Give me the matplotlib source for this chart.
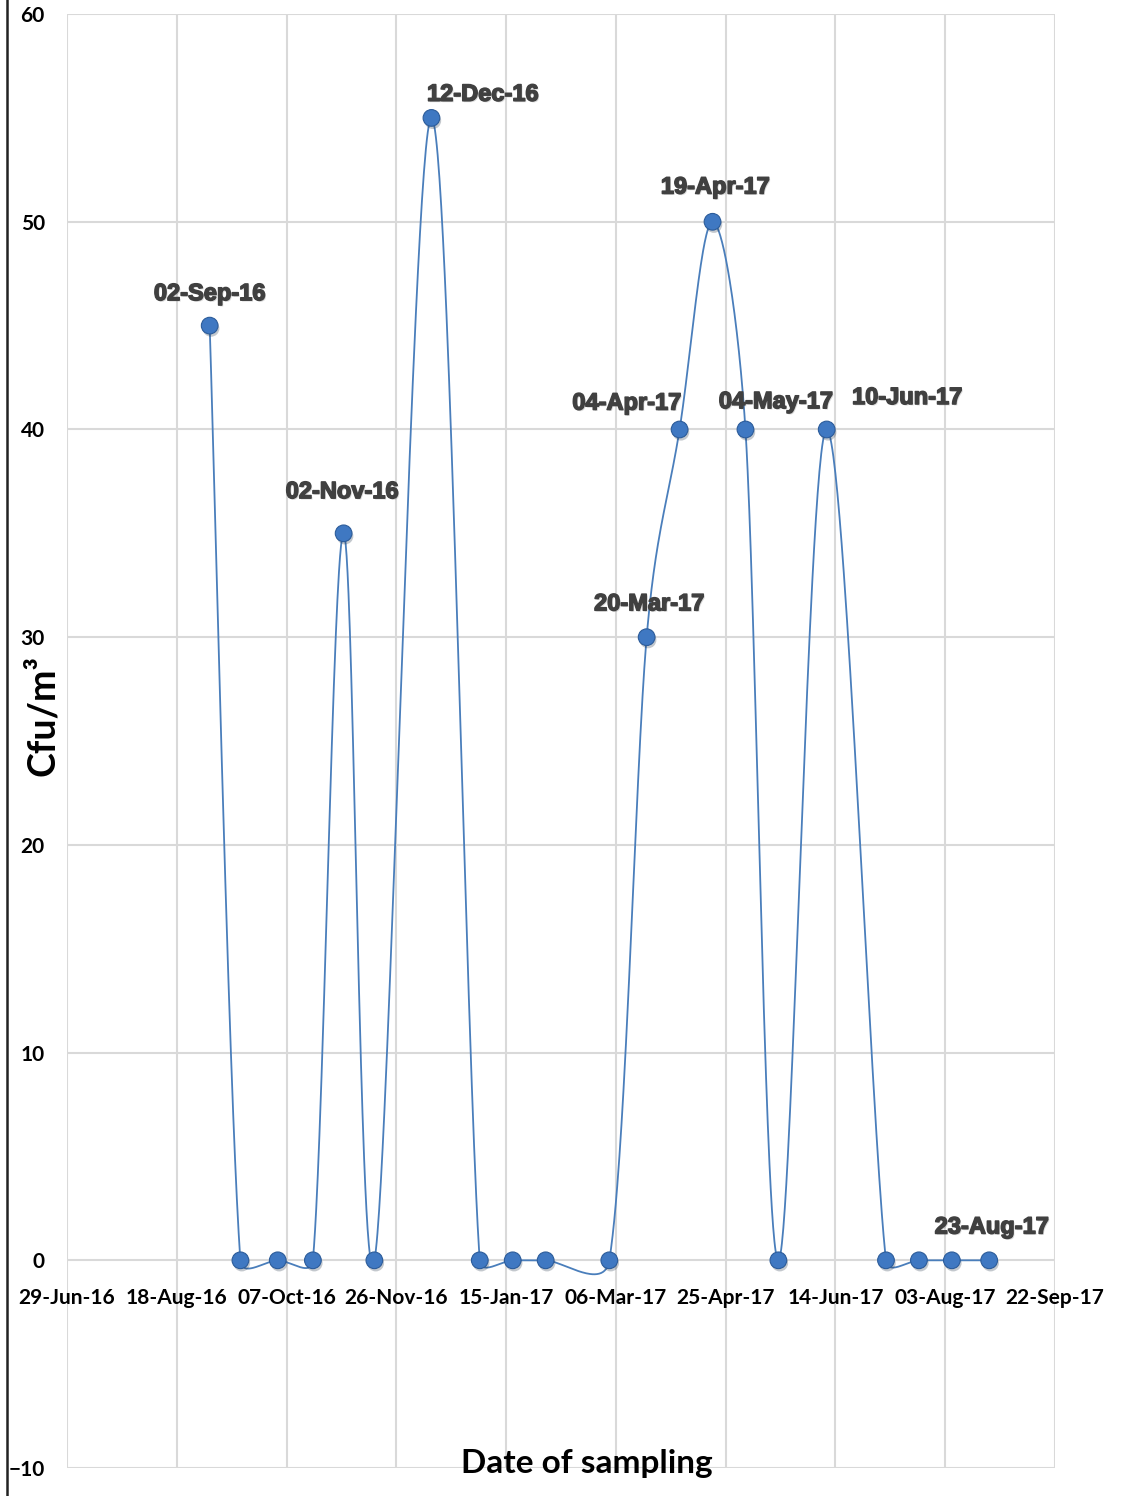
import numpy as np
import matplotlib
matplotlib.use("Agg")
import matplotlib.pyplot as plt
import matplotlib.dates as mdates
import matplotlib.patheffects as pe
from matplotlib.lines import Line2D
from datetime import datetime, timedelta

# sampling dates and counts (cfu/m3)
dates = ['2016-09-02', '2016-09-16', '2016-10-03', '2016-10-19', '2016-11-02',
         '2016-11-16', '2016-12-12', '2017-01-03', '2017-01-18', '2017-02-02',
         '2017-03-03', '2017-03-20', '2017-04-04', '2017-04-19', '2017-05-04',
         '2017-05-19', '2017-06-10', '2017-07-07', '2017-07-22', '2017-08-06',
         '2017-08-23']
cfu = [45, 0, 0, 0, 35, 0, 55, 0, 0, 0, 0, 30, 40, 50, 40, 0, 40, 0, 0, 0, 0]

# which points carry a date label, and its offset (points) from the marker
labelled = {0: (0, 23), 4: (-1, 30), 6: (37, 17), 11: (2, 24), 12: (-38, 19),
            13: (2, 25), 14: (22, 20), 16: (58, 23), 20: (2, 24)}

x_start = datetime(2016, 6, 29)
x_ticks = [x_start + timedelta(days=50 * k) for k in range(10)]
y_ticks = [-10, 0, 10, 20, 30, 40, 50, 60]


def excel_smooth(pts, n=60, k=0.5):
    # bezier through the points, arms = tangent/6 but capped by segment length
    # (done in pixel space, similar to Excel's smoothed line)
    p = np.vstack([pts[0], pts, pts[-1]])
    out = []
    t = np.linspace(0, 1, n)[:, None]
    for i in range(1, len(p) - 2):
        p0, p3 = p[i], p[i + 1]
        seg = np.linalg.norm(p3 - p0)
        t0 = (p[i + 1] - p[i - 1]) / 6
        t1 = (p[i + 2] - p[i]) / 6
        for tv in (t0, t1):
            L = np.linalg.norm(tv)
            if L > k * seg and L > 0:
                tv *= k * seg / L
        p1 = p0 + t0
        p2 = p3 - t1
        b = (1 - t) ** 3 * p0 + 3 * (1 - t) ** 2 * t * p1 + 3 * (1 - t) * t ** 2 * p2 + t ** 3 * p3
        out.append(b)
    return np.vstack(out)


xd = mdates.date2num([datetime.strptime(d, '%Y-%m-%d') for d in dates])
yd = np.array(cfu, dtype=float)

fig = plt.figure(figsize=(11.29, 14.96), dpi=100)
ax = fig.add_axes([0.0593, 0.0187, 0.8752, 0.9719])
ax.set_xlim(mdates.date2num(x_ticks[0]), mdates.date2num(x_ticks[-1]))
ax.set_ylim(-10, 60)

# smooth in display coordinates, then map back to data
disp = ax.transData.transform(np.column_stack([xd, yd]))
curve = ax.transData.inverted().transform(excel_smooth(disp))
ax.plot(curve[:, 0], curve[:, 1], color='#4a7ebb', lw=1.3, zorder=3)
ax.plot(xd, yd, 'o', ms=12, mfc='#3f78c2', mec='#2c5c9a', mew=0.8, zorder=4,
        path_effects=[pe.SimplePatchShadow(offset=(1, -2), alpha=0.25), pe.Normal()])

for i, (dx, dy) in labelled.items():
    lab = datetime.strptime(dates[i], '%Y-%m-%d').strftime('%d-%b-%y')
    ax.annotate(lab, (xd[i], yd[i]), xytext=(dx, dy), textcoords='offset points',
                ha='center', va='center', fontsize=17, fontweight='bold',
                family='Liberation Sans', color='#404040', zorder=5,
                path_effects=[pe.SimplePatchShadow(offset=(1, -1), alpha=0.15),
                              pe.Stroke(linewidth=1.1, foreground='#404040'),
                              pe.Normal()])

ax.set_xticks(mdates.date2num(x_ticks))
ax.set_yticks(y_ticks)
ax.xaxis.set_major_formatter(mdates.DateFormatter('%d-%b-%y'))
ax.grid(True, color='#d9d9d9', lw=1.5)
ax.set_axisbelow(True)
for s in ax.spines.values():
    s.set_visible(False)
ax.spines['bottom'].set_position(('data', 0))
ax.tick_params(axis='x', length=0, pad=20)
ax.tick_params(axis='y', length=0, pad=16)
for t in ax.get_xticklabels() + ax.get_yticklabels():
    t.set_family('Lato')
    t.set_fontweight('bold')
    t.set_fontsize(15)
    t.set_color('black')

fig.text(0.038, 0.522, 'Cfu/m³', rotation=90, ha='center', va='center',
         fontsize=27, fontweight='bold', family='Lato')
fig.text(0.52, 0.022, 'Date of sampling', ha='center', va='center',
         fontsize=24, fontweight='bold', family='Lato')

fig.add_artist(Line2D([0.0065, 0.0065], [0, 1], color='#222222', lw=1.8,
                      transform=fig.transFigure))

fig.savefig('out.png', dpi=100)
